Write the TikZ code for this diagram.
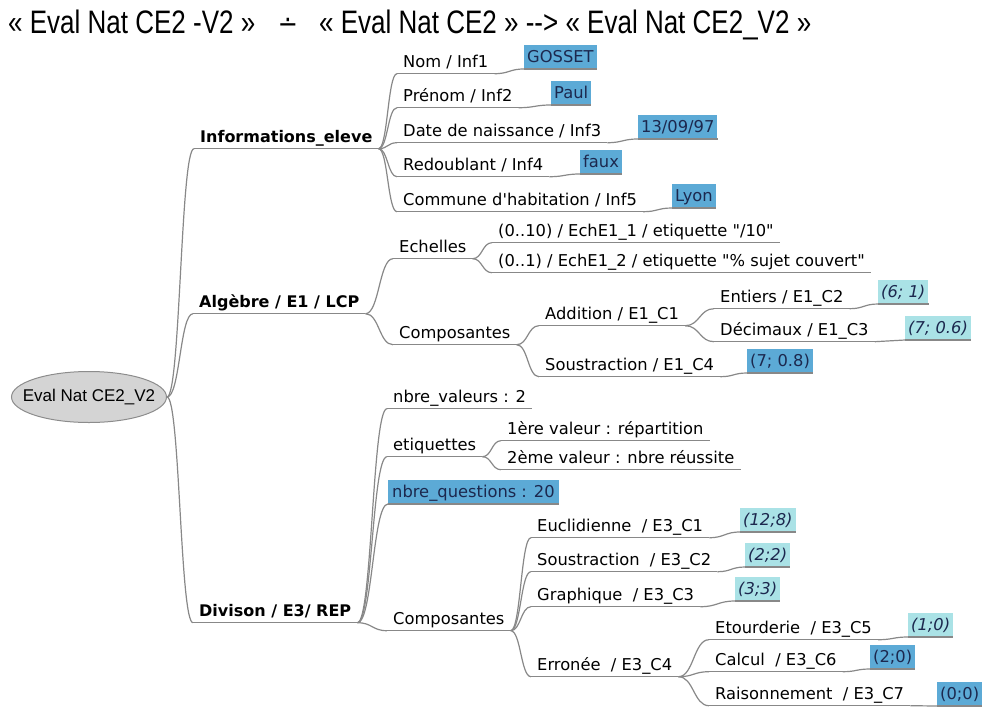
\documentclass[tikz,border=0pt]{standalone}
\usepackage{graphicx}
\usepackage{fontspec}
\setmainfont{DejaVu Sans}[Ligatures=TeXOff]
\newfontfamily\hdr{Liberation Sans}[Ligatures=TeXOff]
\newfontfamily\symf{DejaVu Sans}
\usetikzlibrary{shapes.geometric,calc}
\definecolor{linec}{RGB}{136,136,136}
\definecolor{blueb}{RGB}{92,170,214}
\definecolor{cyanb}{RGB}{170,226,230}
\definecolor{boxtext}{RGB}{28,40,78}
\definecolor{rootfill}{RGB}{212,212,212}
\definecolor{rootline}{RGB}{140,140,140}
\tikzset{
  mm/.style={anchor=base west, inner xsep=6pt, inner ysep=2.5pt, text height=12pt, text depth=4pt, font=\fontsize{16.3}{19}\selectfont},
  mmb/.style={mm, font=\fontsize{16}{19}\selectfont\bfseries},
  valb/.style={anchor=south west, fill=blueb, text=boxtext, inner xsep=3pt, inner ysep=3pt, text height=15pt, text depth=3pt, font=\fontsize{16.3}{19}\selectfont},
  valc/.style={valb, fill=cyanb, font=\fontsize{16.3}{19}\selectfont\itshape},
  uline/.style={draw=linec, line width=1.2pt},
  link/.style={uline, to path={let \p1=(\tikztostart), \p2=(\tikztotarget) in .. controls ({0.5*\x1+0.5*\x2},\y1) and ({0.5*\x1+0.5*\x2},\y2) .. (\tikztotarget)}},
}
\begin{document}
\begin{tikzpicture}[x=1pt,y=-1pt]
\useasboundingbox (0,0) rectangle (984,707);
% header
\node[anchor=base west, inner sep=0, font=\hdr\fontsize{26}{30}\selectfont] (h1) at (8,33) {\scalebox{1}[1.25]{« Eval Nat CE2 -V2 »}};
\node[anchor=base, inner sep=0, font=\symf\fontsize{24}{28}\selectfont] (h2) at (288,33) {\scalebox{1}[1.15]{∸}};
\node[anchor=base west, inner sep=0, font=\hdr\fontsize{26}{30}\selectfont] (h3) at (319,33) {\scalebox{1}[1.25]{« Eval Nat CE2 » -{}-> « Eval Nat CE2\_V2 »}};
% root
\node[ellipse, draw=rootline, fill=rootfill, line width=1pt, minimum width=155pt, minimum height=51pt, inner xsep=-12pt, inner ysep=0pt, font=\hdr\fontsize{17}{20}\selectfont] (root) at (89,397) {Eval Nat CE2\_V2};
% level 1
\node[mmb] (info) at (194,142) {Informations\_eleve};
\node[mmb] (alg) at (193,307) {Algèbre / E1 / LCP};
\node[mmb] (div) at (193,616) {Divison / E3/ REP};
% informations
\node[mm] (nom) at (397,67) {Nom / Inf1};
\node[mm] (prenom) at (397,101) {Prénom / Inf2};
\node[mm] (date) at (397,136) {Date de naissance / Inf3};
\node[mm] (redoub) at (397,170) {Redoublant / Inf4};
\node[mm] (commune) at (397,205) {Commune d'habitation / Inf5};
\node[valb] (gosset) at (524,69) {GOSSET};
\node[valb] (paul) at (551,105) {Paul};
\node[valb] (datev) at (638,139) {13/09/97};
\node[valb] (faux) at (580,174) {faux};
\node[valb] (lyon) at (672,208) {Lyon};
% algebre
\node[mm] (ech) at (393,252) {Echelles};
\node[mm] (compa) at (393,338) {Composantes};
\node[mm] (e10) at (492,236) {(0..10) / EchE1\_1 / etiquette "/10"};
\node[mm] (e1) at (492,266) {(0..1) / EchE1\_2 / etiquette "\% sujet couvert"};
\node[mm] (add) at (539,319) {Addition / E1\_C1};
\node[mm] (sousa) at (539,370) {Soustraction / E1\_C4};
\node[mm] (ent) at (714,302) {Entiers / E1\_C2};
\node[mm] (dec) at (714,335) {Décimaux / E1\_C3};
\node[valc] (v61) at (878,304) {(6; 1)};
\node[valc] (v706) at (905,340) {(7; 0.6)};
\node[valb] (v708) at (747,373) {(7; 0.8)};
% divison
\node[mm] (nval) at (387,402) {nbre\_valeurs : 2};
\node[mm] (etiq) at (387,450) {etiquettes};
\node[mm] (val1) at (501,434) {1ère valeur : répartition};
\node[mm] (val2) at (501,463) {2ème valeur : nbre réussite};
\node[valb, inner xsep=4pt] (nq) at (388,504) {nbre\_questions : 20};
\node[mm] (compd) at (387,624) {Composantes};
\node[mm] (eucl) at (531,531) {Euclidienne\ \ / E3\_C1};
\node[mm] (sousd) at (531,565) {Soustraction\ \ / E3\_C2};
\node[mm] (graph) at (531,600) {Graphique\ \ / E3\_C3};
\node[mm] (err) at (531,670) {Erronée\ \ / E3\_C4};
\node[valc] (v128) at (740,532) {(12;8)};
\node[valc] (v22) at (745,567) {(2;2)};
\node[valc] (v33) at (735,601) {(3;3)};
\node[mm] (etour) at (709,633) {Etourderie\ \ / E3\_C5};
\node[mm] (calc) at (709,665) {Calcul\ \ / E3\_C6};
\node[mm] (rais) at (709,699) {Raisonnement\ \ / E3\_C7};
\node[valc] (v10) at (908,637) {(1;0)};
\node[valb] (v20) at (870,669) {(2;0)};
\node[valb] (v00) at (937,706) {(0;0)};
% underlines
\foreach \n in {info,alg,div,nom,prenom,date,redoub,commune,gosset,paul,datev,faux,lyon,ech,compa,e10,e1,add,sousa,ent,dec,v61,v706,v708,nval,etiq,val1,val2,nq,compd,eucl,sousd,graph,err,v128,v22,v33,etour,calc,rais,v10,v20,v00}
  \draw[uline] (\n.south west) -- (\n.south east);
% links
\foreach \c in {info,alg,div} \draw[link] (root.east) to (\c.south west);
\foreach \c in {nom,prenom,date,redoub,commune} \draw[link] (info.south east) to (\c.south west);
\draw[link] (nom.south east) to (gosset.south west);
\draw[link] (prenom.south east) to (paul.south west);
\draw[link] (date.south east) to (datev.south west);
\draw[link] (redoub.south east) to (faux.south west);
\draw[link] (commune.south east) to (lyon.south west);
\foreach \c in {ech,compa} \draw[link] (alg.south east) to (\c.south west);
\foreach \c in {e10,e1} \draw[link] (ech.south east) to (\c.south west);
\foreach \c in {add,sousa} \draw[link] (compa.south east) to (\c.south west);
\foreach \c in {ent,dec} \draw[link] (add.south east) to (\c.south west);
\draw[link] (ent.south east) to (v61.south west);
\draw[link] (dec.south east) to (v706.south west);
\draw[link] (sousa.south east) to (v708.south west);
\foreach \c in {nval,etiq,nq,compd} \draw[link] (div.south east) to (\c.south west);
\foreach \c in {val1,val2} \draw[link] (etiq.south east) to (\c.south west);
\foreach \c in {eucl,sousd,graph,err} \draw[link] (compd.south east) to (\c.south west);
\draw[link] (eucl.south east) to (v128.south west);
\draw[link] (sousd.south east) to (v22.south west);
\draw[link] (graph.south east) to (v33.south west);
\foreach \c in {etour,calc,rais} \draw[link] (err.south east) to (\c.south west);
\draw[link] (etour.south east) to (v10.south west);
\draw[link] (calc.south east) to (v20.south west);
\draw[link] (rais.south east) to (v00.south west);
\end{tikzpicture}
\end{document}
